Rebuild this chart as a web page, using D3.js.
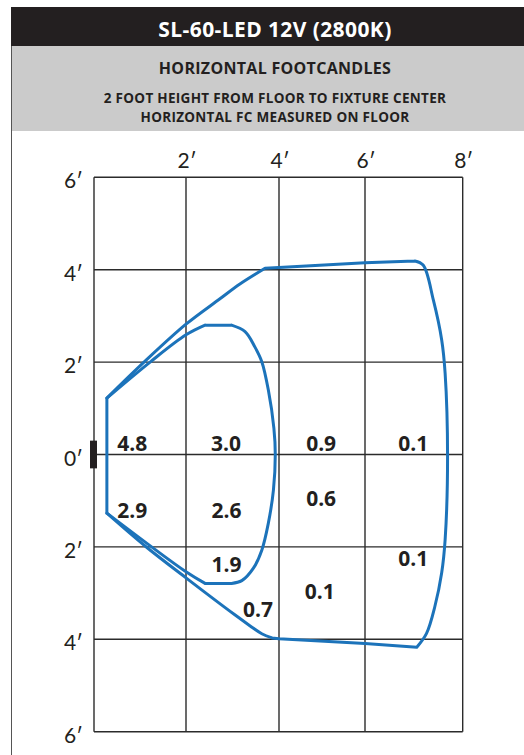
<!DOCTYPE html>
<html>
<head>
<meta charset="utf-8">
<script src="https://cdn.jsdelivr.net/npm/d3@7"></script>
<style>
  body { margin: 0; background: #fff; }
  text { font-family: Lato, "Open Sans", sans-serif; }
  .bold { font-family: "Open Sans", Lato, sans-serif; font-weight: 700; }
</style>
</head>
<body>
<svg width="524" height="755"></svg>
<script>
// header texts
var title = "SL-60-LED 12V (2800K)";
var subtitle = "HORIZONTAL FOOTCANDLES";
var notes = ["2 FOOT HEIGHT FROM FLOOR TO FIXTURE CENTER", "HORIZONTAL FC MEASURED ON FLOOR"];

// axis ticks (feet)
var xTicks = [2, 4, 6, 8];
var yTicks = [6, 4, 2, 0, -2, -4, -6];

// outer contour pieces, [feet forward, feet sideways]
var outerLeft = [[0.28, -1.27], [0.28, 1.22]];
var outerUpper = [[0.28, 1.22], [1.11, 2.02], [2.0, 2.82], [2.73, 3.37], [3.16, 3.69], [3.70, 4.03]];
var outerTop = [[3.70, 4.03], [4.0, 4.05], [6.0, 4.15], [7.02, 4.19]];
var outerRight = [[7.02, 4.19], [7.19, 4.10], [7.40, 3.34], [7.57, 2.48], [7.64, 1.76], [7.69, -0.05],
                  [7.64, -1.85], [7.57, -2.56], [7.43, -3.29], [7.26, -3.87], [7.06, -4.17]];
var outerBottom = [[7.06, -4.17], [6.0, -4.09], [4.0, -3.99], [3.85, -3.97]];
var outerLower = [[3.85, -3.97], [3.63, -3.88], [3.38, -3.71], [3.05, -3.47], [2.0, -2.67], [1.11, -1.98], [0.28, -1.27]];

// inner contour pieces
var innerUpper = [[0.28, 1.22], [1.22, 2.0], [2.0, 2.59], [2.41, 2.80]];
var innerTop = [[2.41, 2.80], [2.98, 2.80]];
var innerRight = [[2.98, 2.80], [3.27, 2.66], [3.48, 2.33], [3.63, 2.01], [3.77, 1.40], [3.89, 0.57], [3.92, 0.0],
                  [3.88, -0.77], [3.77, -1.49], [3.63, -2.07], [3.45, -2.46], [3.20, -2.73], [2.98, -2.79]];
var innerBottom = [[2.98, -2.79], [2.41, -2.79]];
var innerLower = [[2.41, -2.79], [2.0, -2.54], [0.28, -1.27]];

// footcandle readings
var fcValues = ["4.8", "3.0", "0.9", "0.1", "2.9", "2.6", "0.6", "0.1", "1.9", "0.1", "0.7"];
var fcX = [0.83, 2.86, 4.98, 6.99, 0.83, 2.87, 4.98, 6.99, 2.87, 4.95, 3.55];
var fcY = [0.08, 0.08, 0.08, 0.08, -1.38, -1.38, -1.12, -2.41, -2.54, -3.13, -3.51];

var fixtureHalf = 0.3;

var svg = d3.select("svg");
var ink = "#231f20", blue = "#1c73ba";

// frame
svg.append("line").attr("x1", 11.5).attr("x2", 11.5).attr("y1", 7).attr("y2", 755)
    .attr("stroke", "#555").attr("stroke-width", 1);
svg.append("rect").attr("x", 11).attr("y", 7).attr("width", 513).attr("height", 39).attr("fill", ink);
svg.append("rect").attr("x", 12).attr("y", 46).attr("width", 512).attr("height", 85).attr("fill", "#cbcbcb");

var cx = 275;
svg.append("text").attr("class", "bold").attr("x", cx).attr("y", 37).attr("text-anchor", "middle")
    .attr("fill", "#fff").attr("font-size", 21).attr("letter-spacing", 0.4).text(title);
svg.append("text").attr("class", "bold").attr("x", cx).attr("y", 74).attr("text-anchor", "middle")
    .attr("fill", ink).attr("font-size", 16).attr("letter-spacing", 0.3).text(subtitle);
svg.selectAll(".note").data(notes).enter().append("text")
    .attr("class", "note bold")
    .attr("x", cx).attr("y", (d, i) => 103 + i * 19).attr("text-anchor", "middle")
    .attr("fill", ink).attr("font-size", 13.5).attr("letter-spacing", 0.3).text(d => d);

// scales -- the printed grid is not evenly spaced along x
var x = d3.scaleLinear().domain([0, 2, 4, 6, 8]).range([94, 186, 279, 365, 462.7]);
var y = d3.scaleLinear().domain([6, -6]).range([177.3, 731.7]);

var grid = svg.append("g").attr("stroke", "#2b2b2b").attr("stroke-width", 1.4);
grid.selectAll(".v").data([0].concat(xTicks)).enter().append("line")
    .attr("x1", d => x(d)).attr("x2", d => x(d))
    .attr("y1", y(6)).attr("y2", y(-6));
grid.selectAll(".h").data(yTicks).enter().append("line")
    .attr("x1", x(0)).attr("x2", x(8))
    .attr("y1", d => y(d)).attr("y2", d => y(d));

svg.selectAll(".xt").data(xTicks).enter().append("text")
    .attr("x", d => x(d) + 1).attr("y", y(6) - 9)
    .attr("text-anchor", "middle").attr("font-size", 21).attr("fill", ink)
    .text(d => d + "\u2032");
svg.selectAll(".yt").data(yTicks).enter().append("text")
    .attr("x", x(0) - 11).attr("y", d => y(d) + 11)
    .attr("text-anchor", "end").attr("font-size", 21).attr("fill", ink)
    .text(d => Math.abs(d) + "\u2032");

// contours: straight runs drawn linear, bends smoothed
var straight = d3.line().x(d => x(d[0])).y(d => y(d[1]));
var smooth = d3.line().x(d => x(d[0])).y(d => y(d[1])).curve(d3.curveCatmullRom.alpha(0.5));

var contours = [
  [[outerLeft, straight], [outerUpper, smooth], [outerTop, straight], [outerRight, smooth], [outerBottom, straight], [outerLower, smooth]],
  [[innerUpper, smooth], [innerTop, straight], [innerRight, smooth], [innerBottom, straight], [innerLower, smooth]]
];

contours.forEach(function(pieces) {
  svg.append("path")
      .attr("d", pieces.map(p => p[1](p[0])).join(""))
      .attr("fill", "none").attr("stroke", blue).attr("stroke-width", 3)
      .attr("stroke-linejoin", "round").attr("stroke-linecap", "round");
});

// fixture
svg.append("rect")
    .attr("x", x(0) - 4).attr("width", 7)
    .attr("y", y(fixtureHalf)).attr("height", y(-fixtureHalf) - y(fixtureHalf))
    .attr("fill", ink);

svg.selectAll(".fc").data(fcValues).enter().append("text")
    .attr("class", "fc bold")
    .attr("x", (d, i) => x(fcX[i])).attr("y", (d, i) => y(fcY[i]))
    .attr("text-anchor", "middle").attr("font-size", 21)
    .attr("fill", ink).text(d => d);
</script>
</body>
</html>
